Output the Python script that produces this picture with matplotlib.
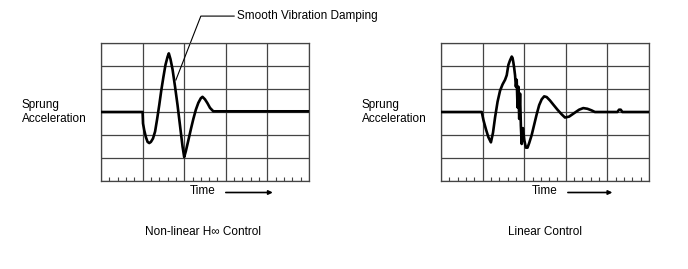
import numpy as np
import matplotlib.pyplot as plt
from matplotlib.ticker import MultipleLocator

plt.rcParams['font.family'] = ['Liberation Sans', 'DejaVu Sans']

# time in grid columns (0..5), acceleration in grid rows (-3..3)
t_nonlin = [0, 1.0, 1.01, 1.04, 1.08, 1.12, 1.16, 1.2, 1.25, 1.3, 1.35, 1.4, 1.45, 1.5,
            1.55, 1.6, 1.63, 1.67, 1.72, 1.78, 1.84, 1.9, 1.96, 2.0, 2.04, 2.1, 2.16,
            2.22, 2.28, 2.34, 2.4, 2.44, 2.5, 2.56, 2.62, 2.7, 2.8, 5]
a_nonlin = [0, 0, -0.5, -0.8, -1.1, -1.3, -1.35, -1.3, -1.15, -0.85, -0.3, 0.3, 0.95, 1.52,
            2.05, 2.4, 2.55, 2.3, 1.85, 1.1, 0.3, -0.6, -1.5, -1.96, -1.7, -1.23, -0.75,
            -0.3, 0.1, 0.4, 0.6, 0.66, 0.55, 0.38, 0.18, 0.03, 0.03, 0.03]

t_lin = [0, 0.98, 1.02, 1.08, 1.14, 1.2, 1.25, 1.3, 1.36, 1.42, 1.48, 1.54, 1.58, 1.62,
         1.66, 1.7, 1.72, 1.74, 1.76, 1.78, 1.8, 1.82, 1.84, 1.86, 1.88, 1.9, 1.92, 1.94,
         1.97, 2.0, 2.04, 2.08, 2.12, 2.18, 2.24, 2.3, 2.36, 2.42, 2.48, 2.54, 2.62, 2.7,
         2.8, 2.9, 2.98, 3.08, 3.2, 3.32, 3.42, 3.52, 3.62, 3.7, 4.24, 4.28, 4.32, 4.36, 5]
a_lin = [0, 0, -0.35, -0.75, -1.1, -1.32, -0.9, -0.23, 0.45, 0.93, 1.2, 1.4, 1.6, 2.05,
         2.25, 2.41, 2.35, 2.15, 1.9, 1.6, 1.1, 1.4, 0.2, 1.1, -0.3, 0.8, -0.6, -1.39,
         -0.7, -1.2, -1.55, -1.55, -1.35, -1.0, -0.55, -0.1, 0.3, 0.55, 0.68, 0.65, 0.5,
         0.32, 0.1, -0.1, -0.24, -0.2, -0.05, 0.1, 0.17, 0.14, 0.07, 0, 0, 0.1, 0.1, 0, 0]

captions = ['Non-linear H\u221e Control', 'Linear Control']
ylabel = 'Sprung\nAcceleration'

fig = plt.figure(figsize=(6.88, 2.69), dpi=100)
ax1 = fig.add_axes([101 / 688, 88 / 269, 208 / 688, 138 / 269])
ax2 = fig.add_axes([441 / 688, 88 / 269, 208 / 688, 138 / 269])

panels = [(ax1, t_nonlin, a_nonlin, captions[0], 2.45, 3.0, 4.13),
          (ax2, t_lin, a_lin, captions[1], 2.5, 3.05, 4.12)]
for ax, t, a, cap, tx, ax0, ax1_ in panels:
    ax.set_xlim(0, 5)
    ax.set_ylim(-3, 3)
    ax.xaxis.set_major_locator(MultipleLocator(1))
    ax.xaxis.set_minor_locator(MultipleLocator(0.2))
    ax.yaxis.set_major_locator(MultipleLocator(1))
    ax.grid(True, which='major', color='#444444', lw=0.9)
    ax.tick_params(which='both', direction='in', labelbottom=False, labelleft=False,
                   left=False, top=False, right=False)
    ax.tick_params(which='major', length=0)
    ax.tick_params(which='minor', length=3, width=0.8, color='#444444')
    for s in ax.spines.values():
        s.set_color('#444444')
        s.set_linewidth(0.9)
    ax.plot(t, a, color='black', lw=1.9, solid_joinstyle='round', zorder=3)
    ax.text(-0.07, 0.5, ylabel, transform=ax.transAxes, ha='right', va='center',
            fontsize=8.5, multialignment='left', linespacing=1.3)
    ax.text(tx, -3.45, 'Time', ha='center', va='center', fontsize=8.5, clip_on=False)
    ax.annotate('', xy=(ax1_, -3.5), xytext=(ax0, -3.5), annotation_clip=False,
                arrowprops=dict(arrowstyle='-|>', color='black', lw=1.2,
                                mutation_scale=6, shrinkA=0, shrinkB=0))
    ax.text(tx, -5.2, cap, ha='center', va='center', fontsize=8.5, clip_on=False)

# callout on the left chart
ax1.plot([1.8, 2.4, 3.2], [1.39, 4.17, 4.17], color='black', lw=0.8, clip_on=False)
ax1.text(3.27, 4.17, 'Smooth Vibration Damping', ha='left', va='center', fontsize=8.5,
         clip_on=False)

fig.savefig('out.png', dpi=100)
